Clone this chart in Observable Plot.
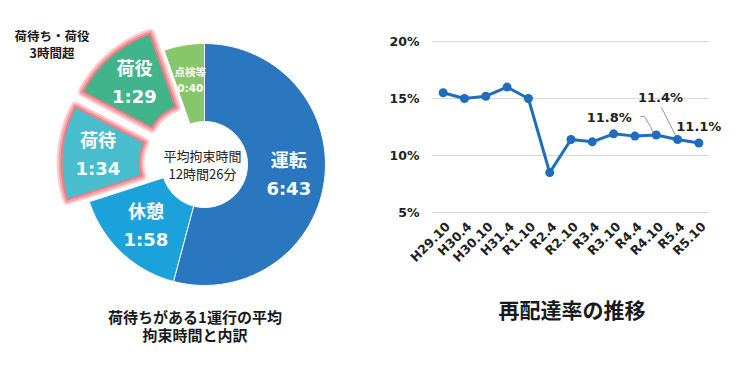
<!DOCTYPE html>
<html><head><meta charset="utf-8">
<script src="https://cdn.jsdelivr.net/npm/d3@7"></script>
<script src="https://cdn.jsdelivr.net/npm/@observablehq/plot@0.6"></script>
<style>
body{margin:0;background:#fff;}
#wrap{position:relative;width:750px;height:366px;overflow:hidden;font-family:"Noto Sans CJK JP",sans-serif;background:#fff;}
#left{position:absolute;left:0;top:0;}
#right{position:absolute;left:370px;top:0;}
.t{position:absolute;text-align:center;font-weight:bold;color:#1a1a1a;white-space:nowrap;}
</style></head><body>
<div id="wrap"><div id="left"></div><div id="right"></div>
<div class="t" style="left:2px;top:27px;width:100px;font-size:12.5px;line-height:17px;">荷待ち・荷役<br>3時間超</div>
<div class="t" style="left:95px;top:308px;width:200px;font-size:15px;line-height:18px;">荷待ちがある1運行の平均<br>拘束時間と内訳</div>
<div class="t" style="left:472px;top:295px;width:200px;font-size:21px;line-height:28px;">再配達率の推移</div>
</div>
<script>
// ---- Left: donut data ----
const segNames = ["運転","休憩","荷待","荷役","点検等"];
const segTimes = ["6:43","1:58","1:34","1:29","0:40"];
const segColors = ["#2A77C0","#1BA2DB","#48BDCD","#42B48C","#88C66C"];
const highlighted = ["荷待","荷役"];
const centerText = "平均拘束時間\n12時間26分";

// ---- Right: line data ----
const periods = ["H29.10","H30.4","H30.10","H31.4","R1.10","R2.4","R2.10","R3.4","R3.10","R4.4","R4.10","R5.4","R5.10"];
const redeliveryRate = [15.5,15.0,15.2,16.0,15.0,8.5,11.4,11.2,11.9,11.7,11.8,11.4,11.1];
const yTicks = [5,10,15,20];

// ---- Donut ----
const minutes = segTimes.map(t => { const [h,m] = t.split(":").map(Number); return h*60+m; });
const segs = segNames.map((n,i) => ({name:n, time:segTimes[i], min:minutes[i], hi:highlighted.includes(n)}));
const arcs = d3.pie().sort(null).value(d => d.min)(segs);
const cx = 204, cy = 164, R = 121, r0 = 43, explode = 22, labelR = 85;
const poly = [];
const labels = [];
arcs.forEach(a => {
  const mid = (a.startAngle + a.endAngle)/2;
  const e = a.data.hi ? explode : 0;
  const ox = e*Math.sin(mid), oy = -e*Math.cos(mid);
  const n = 60;
  for (let k=0;k<=n;k++){ const t=a.startAngle+(a.endAngle-a.startAngle)*k/n; poly.push({name:a.data.name,hi:a.data.hi,x:cx+ox+R*Math.sin(t),y:cy+oy-R*Math.cos(t)}); }
  for (let k=n;k>=0;k--){ const t=a.startAngle+(a.endAngle-a.startAngle)*k/n; poly.push({name:a.data.name,hi:a.data.hi,x:cx+ox+r0*Math.sin(t),y:cy+oy-r0*Math.cos(t)}); }
  labels.push({name:a.data.name, time:a.data.time, small:a.data.min<60,
    x: cx + (labelR+e)*Math.sin(mid), y: cy - (labelR+e)*Math.cos(mid)});
});
const hiPoly = poly.filter(d => d.hi);
const left = Plot.plot({
  width:360, height:366, margin:0,
  style:{fontFamily:"DejaVu Sans, 'Noto Sans CJK JP', sans-serif", background:"transparent"},
  x:{domain:[0,360], range:[0,360], axis:null},
  y:{domain:[0,366], range:[0,366], axis:null},
  color:{domain:segNames, range:segColors},
  marks:[
    Plot.line(hiPoly,{x:"x",y:"y",z:"name",stroke:"#FBD0D3",strokeWidth:10,curve:"linear-closed",strokeLinejoin:"round"}),
    Plot.line(hiPoly,{x:"x",y:"y",z:"name",stroke:"#F5A3A8",strokeWidth:6,curve:"linear-closed",strokeLinejoin:"round"}),
    Plot.line(poly,{x:"x",y:"y",z:"name",fill:"name",stroke:"white",strokeWidth:1,curve:"linear-closed"}),
    Plot.line(hiPoly,{x:"x",y:"y",z:"name",stroke:"#EE7B83",strokeWidth:2,curve:"linear-closed",strokeLinejoin:"round"}),
    Plot.text(labels.filter(d=>!d.small),{x:"x",y:"y",text:"name",dy:-14,fill:"white",fontSize:18,fontWeight:"bold"}),
    Plot.text(labels.filter(d=>!d.small),{x:"x",y:"y",text:"time",dy:14,fill:"white",fontSize:18,fontWeight:"bold"}),
    Plot.text(labels.filter(d=>d.small),{x:"x",y:"y",text:"name",dy:-8,fill:"white",fontSize:10.5,fontWeight:"bold"}),
    Plot.text(labels.filter(d=>d.small),{x:"x",y:"y",text:"time",dy:8,fill:"white",fontSize:10.5,fontWeight:"bold"}),
    Plot.text([{x:cx-2,y:cy}],{x:"x",y:"y",text:()=>centerText,fontSize:13,lineHeight:1.35,fill:"#222",fontFamily:"'Noto Sans CJK JP', sans-serif"})
  ]
});
document.getElementById("left").appendChild(left);

// ---- Line chart ----
const rows = periods.map((p,i) => ({i, p, v:redeliveryRate[i]}));
const W=360, H=285, mL=62, mR=21, mT=41, mB=73;
const xu = (W-mL-mR)/13, yu = (H-mT-mB)/15;
const leaderPx = {"R4.10":[[-15.6,-18.5],[-11.6,-18.5],[-2.6,-2.5]], "R5.4":[[-16,-32],[-1,-2]]};
const leaders = [];
Object.entries(leaderPx).forEach(([p,pts]) => {
  const r = rows.find(d => d.p===p);
  pts.forEach(([dx,dy]) => leaders.push({p, x:r.i+dx/xu, y:r.v-dy/yu}));
});
const labelOpts = {"R4.10":[-47,-17.5], "R5.4":[-17,-42], "R5.10":[0,-16.5]};
const right = Plot.plot({
  width:W, height:H, marginLeft:mL, marginRight:mR, marginTop:mT, marginBottom:mB,
  style:{fontFamily:"DejaVu Sans, sans-serif", background:"transparent"},
  x:{domain:[-0.5,12.5]},
  y:{domain:[5,20]},
  marks:[
    Plot.gridY(yTicks,{stroke:"#d9d9d9",strokeOpacity:1}),
    Plot.axisY(yTicks,{tickSize:0,tickPadding:13,tickFormat:d=>d+"%",fontSize:12.5,fontWeight:"bold",color:"#222",label:null}),
    Plot.axisX(d3.range(periods.length),{tickSize:0,tickRotate:-45,tickFormat:i=>periods[i],fontSize:12.5,fontWeight:"bold",color:"#222",label:null,tickPadding:12,dx:5}),
    Plot.line(leaders,{x:"x",y:"y",z:"p",stroke:"#9a9a9a",strokeWidth:1}),
    Plot.line(rows,{x:"i",y:"v",stroke:"#1F6EBE",strokeWidth:3}),
    Plot.dot(rows,{x:"i",y:"v",fill:"#1F6EBE",r:4.5}),
    ...Object.entries(labelOpts).map(([p,[dx,dy]]) =>
      Plot.text(rows.filter(d=>d.p===p),{x:"i",y:"v",text:d=>d.v.toFixed(1)+"%",dx,dy,fontSize:13,fontWeight:"bold",fill:"#222"}))
  ]
});
document.getElementById("right").appendChild(right);
</script>
</body></html>
